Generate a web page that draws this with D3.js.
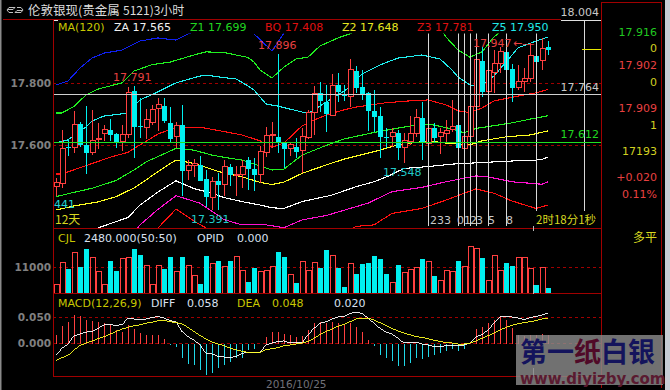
<!DOCTYPE html>
<html>
<head>
<meta charset="utf-8">
<script src="https://d3js.org/d3.v7.min.js"></script>
<style>
html, body { margin: 0; padding: 0; background: #000; overflow: hidden; }
text { font-family: "DejaVu Sans", sans-serif; font-size: 11px; }
.cn { font-family: "Noto Sans CJK SC", sans-serif; }
.axis text { fill: #808080; font-size: 10.5px; font-weight: bold; }
.axis path, .axis line { display: none; }
</style>
</head>
<body>
<div id="chart"></div>
<script>
// candles
var opens = [17.467,17.477,17.595,17.593,17.669,17.602,17.577,17.621,17.638,17.650,17.637,17.613,17.636,17.776,17.664,17.657,17.673,17.719,17.727,17.672,17.628,17.665,17.519,17.535,17.538,17.492,17.432,17.485,17.473,17.532,17.503,17.505,17.553,17.524,17.505,17.577,17.632,17.626,17.612,17.590,17.594,17.583,17.626,17.706,17.768,17.740,17.696,17.794,17.763,17.757,17.840,17.788,17.768,17.711,17.695,17.627,17.628,17.639,17.593,17.612,17.638,17.688,17.607,17.655,17.628,17.638,17.652,17.666,17.590,17.628,17.725,17.873,17.774,17.835,17.865,17.903,17.846,17.786,17.806,17.815,17.889,17.874,17.917];
var highs = [17.496,17.650,17.622,17.712,17.676,17.727,17.715,17.672,17.666,17.684,17.640,17.666,17.788,17.792,17.753,17.717,17.731,17.752,17.752,17.723,17.677,17.731,17.553,17.555,17.566,17.521,17.499,17.510,17.553,17.539,17.534,17.553,17.564,17.560,17.599,17.659,17.677,17.896,17.612,17.612,17.623,17.655,17.715,17.792,17.804,17.795,17.831,17.833,17.795,17.879,17.856,17.844,17.774,17.779,17.725,17.655,17.655,17.650,17.639,17.695,17.718,17.739,17.682,17.672,17.655,17.682,17.747,17.666,17.639,17.769,17.898,17.919,17.876,17.908,17.919,17.918,17.862,17.860,17.849,17.930,17.921,17.947,17.937];
var lows = [17.437,17.464,17.566,17.577,17.595,17.508,17.569,17.589,17.615,17.613,17.593,17.582,17.623,17.561,17.623,17.621,17.666,17.646,17.672,17.608,17.593,17.437,17.489,17.499,17.485,17.402,17.391,17.392,17.437,17.469,17.437,17.463,17.456,17.453,17.478,17.564,17.591,17.577,17.526,17.566,17.559,17.510,17.620,17.634,17.707,17.644,17.696,17.741,17.744,17.725,17.768,17.747,17.647,17.645,17.561,17.592,17.596,17.553,17.545,17.602,17.628,17.553,17.576,17.607,17.573,17.607,17.645,17.591,17.588,17.608,17.723,17.757,17.763,17.768,17.833,17.844,17.741,17.779,17.774,17.806,17.870,17.844,17.892];
var closes = [17.481,17.591,17.591,17.668,17.603,17.577,17.617,17.623,17.652,17.635,17.611,17.636,17.772,17.660,17.660,17.684,17.717,17.731,17.679,17.621,17.663,17.519,17.536,17.541,17.486,17.435,17.485,17.473,17.531,17.505,17.506,17.532,17.524,17.505,17.582,17.633,17.637,17.609,17.589,17.603,17.579,17.630,17.708,17.768,17.744,17.702,17.792,17.772,17.760,17.844,17.785,17.766,17.712,17.693,17.628,17.623,17.643,17.593,17.615,17.639,17.690,17.607,17.655,17.625,17.643,17.649,17.661,17.591,17.628,17.726,17.878,17.774,17.841,17.865,17.903,17.844,17.785,17.808,17.815,17.889,17.870,17.914,17.908];

// volume and macd panels
var volumes = [3800,13100,10300,17300,11000,18600,15200,9300,3400,13700,9400,14400,15200,18600,16100,11800,3800,11800,10300,15200,8900,15200,11800,7600,3800,15700,12300,13500,11300,13700,15500,9600,4700,10600,9200,9600,11300,17300,15200,7900,4200,13400,9600,13000,10600,18200,15900,10600,2500,12600,8000,12300,12700,15700,14400,8000,4500,11800,8500,10100,10600,14400,13400,7200,5500,9600,8900,13500,11300,19700,18900,14800,5100,15900,9600,12700,11400,15100,15100,10400,3400,10900,2000];
var macdBars = [0.017,0.033,0.041,0.054,0.052,0.045,0.044,0.041,0.039,0.035,0.026,0.023,0.036,0.028,0.020,0.017,0.017,0.017,0.009,-0.003,-0.006,-0.027,-0.040,-0.042,-0.051,-0.060,-0.056,-0.047,-0.041,-0.035,-0.028,-0.027,-0.013,-0.010,0,0.012,0.022,0.023,0.019,0.017,0.013,0.015,0.026,0.039,0.042,0.040,0.042,0.039,0.036,0.040,0.031,0.022,0.007,-0.005,-0.022,-0.028,-0.033,-0.043,-0.044,-0.038,-0.028,-0.030,-0.025,-0.022,-0.019,-0.014,-0.010,-0.014,-0.010,0.001,0.028,0.031,0.039,0.045,0.052,0.045,0.029,0.017,0.015,0.017,0.017,0.019,0.017];
var diff = [-0.023,-0.009,-0.001,0.015,0.018,0.022,0.023,0.029,0.036,0.036,0.035,0.036,0.049,0.047,0.047,0.047,0.050,0.052,0.049,0.044,0.042,0.023,0.013,0.007,-0.003,-0.019,-0.020,-0.025,-0.026,-0.027,-0.025,-0.019,-0.017,-0.017,-0.017,-0.003,0.001,0.004,0.005,0.001,0.001,0.001,0.017,0.029,0.039,0.042,0.047,0.051,0.052,0.058,0.060,0.058,0.049,0.039,0.029,0.022,0.018,0.010,0.001,0.001,0.003,-0.001,-0.003,-0.006,-0.006,-0.004,-0.004,-0.004,-0.003,0.001,0.013,0.017,0.026,0.039,0.051,0.052,0.051,0.049,0.046,0.050,0.052,0.055,0.058];
var dea = [-0.033,-0.027,-0.023,-0.012,-0.004,0.001,0.005,0.009,0.013,0.018,0.023,0.028,0.031,0.034,0.036,0.039,0.041,0.044,0.045,0.042,0.040,0.038,0.031,0.023,0.015,0.009,0.003,-0.001,-0.004,-0.009,-0.012,-0.015,-0.017,-0.017,-0.017,-0.012,-0.010,-0.008,-0.004,-0.003,-0.001,0.001,0.004,0.010,0.017,0.023,0.028,0.033,0.037,0.042,0.047,0.049,0.049,0.045,0.040,0.035,0.029,0.024,0.020,0.017,0.013,0.012,0.009,0.006,0.004,0.002,0.001,-0.001,-0.001,0.001,0.005,0.010,0.015,0.020,0.026,0.031,0.035,0.038,0.040,0.042,0.044,0.047,0.049];

// band lines, read at the bars listed
var blueBars = [0,2,4,6,8,11,14,17,20,22,25,28,32,33,36,38];
var blueVals = [17.795,17.808,17.850,17.882,17.898,17.908,17.937,17.947,17.940,17.960,17.979,17.985,17.973,17.960,17.905,17.963];
var greenTopBars = [0,1,3,5,7,11,13,16,19,23,25,28,30,32,33,34,36,38,40,42,44,47,49,52,55,60,63,65,67,69,71,73,74,76,79,82];
var greenTopVals = [17.705,17.705,17.726,17.763,17.782,17.802,17.840,17.861,17.869,17.892,17.902,17.900,17.892,17.884,17.869,17.844,17.818,17.853,17.879,17.885,17.921,17.947,17.960,17.989,18.011,18.031,18.011,17.950,17.908,17.885,17.902,17.950,17.966,17.998,18.024,18.044];
var cyanBars = [0,2,5,6,8,11,12,14,17,20,24,25,28,30,32,33,35,37,41,42,43,45,47,49,51,54,57,61,64,66,67,69,71,73,75,77,80,82];
var cyanVals = [17.609,17.618,17.660,17.679,17.695,17.702,17.706,17.747,17.773,17.802,17.824,17.827,17.819,17.815,17.792,17.779,17.734,17.727,17.708,17.705,17.715,17.740,17.763,17.789,17.831,17.860,17.882,17.892,17.879,17.844,17.821,17.795,17.795,17.824,17.869,17.915,17.937,17.950];
var redMidBars = [0,1,2,5,9,12,14,17,20,24,28,31,34,36,38,41,43,45,48,50,55,59,62,65,67,69,71,73,78,80,82];
var redMidVals = [17.508,17.508,17.515,17.535,17.562,17.578,17.602,17.637,17.659,17.659,17.645,17.634,17.615,17.594,17.608,17.663,17.682,17.698,17.715,17.724,17.738,17.744,17.747,17.731,17.712,17.706,17.721,17.744,17.763,17.770,17.781];
var greenLowBars = [0,3,6,10,13,15,18,20,23,26,28,31,34,36,38,41,45,48,53,57,61,63,66,68,70,76,79,82];
var greenLowVals = [17.435,17.449,17.462,17.487,17.521,17.547,17.573,17.591,17.585,17.569,17.562,17.553,17.534,17.521,17.524,17.569,17.600,17.621,17.642,17.656,17.669,17.666,17.653,17.641,17.655,17.673,17.685,17.696];
var yellowBars = [0,3,7,10,13,15,18,20,23,26,28,31,34,36,38,41,45,48,53,57,62,65,69,71,75,79,82];
var yellowVals = [17.392,17.405,17.418,17.435,17.463,17.489,17.529,17.553,17.542,17.523,17.511,17.499,17.481,17.474,17.482,17.510,17.537,17.556,17.580,17.602,17.615,17.608,17.602,17.615,17.628,17.634,17.647];
var whiteBars = [3,7,12,14,17,20,23,26,28,31,34,36,38,41,46,50,53,55,58,62,66,70,76,80,81,82];
var whiteVals = [17.302,17.334,17.368,17.408,17.450,17.486,17.461,17.446,17.432,17.419,17.408,17.399,17.397,17.419,17.440,17.467,17.483,17.498,17.526,17.532,17.540,17.544,17.550,17.553,17.555,17.563];
var magentaBars = [12,14,17,20,24,28,31,35,38,41,45,52,56,61,65,70,72,76,81,82];
var magentaVals = [17.295,17.344,17.394,17.438,17.414,17.361,17.344,17.344,17.335,17.360,17.374,17.414,17.451,17.465,17.483,17.502,17.499,17.483,17.475,17.483];
var redLow1Bars = [16,17,20,23,25,27];
var redLow1Vals = [17.285,17.334,17.395,17.356,17.334,17.295];
var redLow2Bars = [49,50,53,56,61,65,70,73,76,80,82];
var redLow2Vals = [17.327,17.339,17.344,17.381,17.397,17.424,17.460,17.446,17.421,17.397,17.408];

// time lines
var fibBars = [62,67,68,69,70,72,75,80,88];
var fibLabels = ["233","0","1","2","3","5","8"];

var priceTicks = [17.8, 17.6];
var volTicks = [11000];
var macdTicks = [0.05, 0];

var width = 670, height = 390;
var left = 53, right = 601;

var svg = d3.select("#chart").append("svg")
    .attr("width", width)
    .attr("height", height)
    .style("display", "block");

var x = d3.scaleLinear().domain([0, 82]).range([56, 548]);
var y = d3.scaleLinear().domain([17.8, 17.6]).range([83.5, 145.5]);
var yVol = d3.scaleLinear().domain([0, 11000]).range([293, 267]);
var yMacd = d3.scaleLinear().domain([0, 0.05]).range([343.5, 317.5]);

var RED = "#ff4040", CYAN = "#00f0f0", DARK = "#a00000";

svg.append("defs").append("clipPath").attr("id", "mainClip")
    .append("rect").attr("x", left + 1).attr("y", 20).attr("width", right - left - 1).attr("height", 208);

// window edges
svg.append("rect").attr("x", 0).attr("y", 0).attr("width", 1.5).attr("height", height).attr("fill", "#8a8a8a");
svg.append("rect").attr("x", 665).attr("y", 0).attr("width", 5).attr("height", height).attr("fill", "#c8ccd4");

function hline(y0, x1, x2, color, dash) {
    svg.append("line").attr("x1", x1).attr("x2", x2).attr("y1", y0).attr("y2", y0)
        .attr("stroke", color).attr("stroke-dasharray", dash || null)
        .attr("shape-rendering", "crispEdges");
}
function vline(x0, y1, y2, color) {
    svg.append("line").attr("x1", x0).attr("x2", x0).attr("y1", y1).attr("y2", y2)
        .attr("stroke", color).attr("shape-rendering", "crispEdges");
}

// dashed grid
priceTicks.forEach(function(d) { hline(y(d), left, right, DARK, "3,3"); });
volTicks.forEach(function(d) { hline(yVol(d), left, right, DARK, "3,3"); });
macdTicks.forEach(function(d) { hline(yMacd(d), left, right, DARK, "3,3"); });

// band lines
var main = svg.append("g").attr("clip-path", "url(#mainClip)");
function bandLine(bars, vals, color) {
    var line = d3.line().x(function(d) { return x(d); }).y(function(d, i) { return y(vals[i]); });
    main.append("path").attr("d", line(bars)).attr("fill", "none")
        .attr("stroke", color).attr("stroke-width", 1.1).attr("shape-rendering", "crispEdges");
}
bandLine(blueBars, blueVals, "#1020f0");
bandLine(greenTopBars, greenTopVals, "#20f020");
bandLine(cyanBars, cyanVals, "#20f0f0");
bandLine(redMidBars, redMidVals, "#ff1010");
bandLine(greenLowBars, greenLowVals, "#20f020");
bandLine(yellowBars, yellowVals, "#ffff20");
bandLine(whiteBars, whiteVals, "#ffffff");
bandLine(magentaBars, magentaVals, "#ff10d0");
bandLine(redLow1Bars, redLow1Vals, "#ff1010");
bandLine(redLow2Bars, redLow2Vals, "#ff1010");

// candles
var candle = main.selectAll(".candle").data(opens).enter().append("g").attr("class", "candle")
    .attr("shape-rendering", "crispEdges");
candle.append("line")
    .attr("x1", function(d, i) { return x(i) + 0.5; })
    .attr("x2", function(d, i) { return x(i) + 0.5; })
    .attr("y1", function(d, i) { return y(highs[i]); })
    .attr("y2", function(d, i) { return y(lows[i]); })
    .attr("stroke", function(d, i) { return closes[i] >= d ? RED : CYAN; });
candle.append("rect")
    .attr("x", function(d, i) { return x(i) - 2; })
    .attr("width", 5)
    .attr("y", function(d, i) { return y(Math.max(d, closes[i])); })
    .attr("height", function(d, i) { return Math.max(1, Math.abs(y(d) - y(closes[i]))); })
    .attr("fill", function(d, i) { return closes[i] >= d ? "#000" : CYAN; })
    .attr("stroke", function(d, i) { return closes[i] >= d ? RED : "none"; });

// time lines
svg.selectAll(".fib").data(fibBars).enter().append("line").attr("class", "fib")
    .attr("x1", function(d) { return x(d) + 0.5; })
    .attr("x2", function(d) { return x(d) + 0.5; })
    .attr("y1", 20)
    .attr("y2", function(d) { return d >= 80 ? 211 : 226; })
    .attr("stroke", "#d8d8d8").attr("shape-rendering", "crispEdges");

// price lines
hline(94.7, left, right, "#d0d0d0");
hline(142, left, right, "#20e020");

// label row sits on black
svg.append("rect").attr("x", left + 1).attr("y", 20).attr("width", 507).attr("height", 13.5).attr("fill", "#000");
svg.append("rect").attr("x", 192).attr("y", 33).attr("width", 63).attr("height", 1).attr("fill", "#000");

// volume
var vol = svg.selectAll(".vol").data(volumes).enter().append("rect").attr("class", "vol")
    .attr("x", function(d, i) { return x(i) - 2; })
    .attr("width", 5)
    .attr("y", function(d) { return yVol(d); })
    .attr("height", function(d) { return yVol(0) - yVol(d); })
    .attr("fill", function(d, i) { return closes[i] >= opens[i] ? "none" : CYAN; })
    .attr("stroke", function(d, i) { return closes[i] >= opens[i] ? RED : "none"; })
    .attr("shape-rendering", "crispEdges");

// macd
svg.selectAll(".macdBar").data(macdBars).enter().append("line").attr("class", "macdBar")
    .attr("x1", function(d, i) { return x(i) + 0.5; })
    .attr("x2", function(d, i) { return x(i) + 0.5; })
    .attr("y1", yMacd(0))
    .attr("y2", function(d) { return yMacd(d); })
    .attr("stroke", function(d) { return d >= 0 ? RED : "#20d8e8"; })
    .attr("shape-rendering", "crispEdges");
var macdLine = d3.line().x(function(d, i) { return x(i); }).y(function(d) { return yMacd(d); });
svg.append("path").attr("d", macdLine(diff)).attr("fill", "none").attr("stroke", "#ffffff").attr("stroke-width", 0.9).attr("shape-rendering", "crispEdges");
svg.append("path").attr("d", macdLine(dea)).attr("fill", "none").attr("stroke", "#ffff20").attr("stroke-width", 0.9).attr("shape-rendering", "crispEdges");

// panel frame
hline(19, 3, 561, DARK);
hline(20, 561, right, "#e0e0e0");
hline(228.5, left, right, DARK);
hline(293.5, left, right, DARK);
hline(376.5, left, right, DARK);
hline(2.5, right, 662, DARK);
vline(left + 0.5, 19, 376, DARK);
vline(right + 0.5, 2, 388, DARK);
vline(661.5, 2, 388, DARK);
hline(20, left + 1, left + 5, "#e8e8e8");
vline(533.5, 226, 231, "#bbbbbb");
vline(533.5, 285, 294, "#bbbbbb");
vline(533.5, 368, 376, "#bbbbbb");

// current price marker
hline(49.5, 582, right, "#e8e800");

// left axes
svg.append("g").attr("class", "axis").attr("transform", "translate(" + (left + 1) + ",0)")
    .call(d3.axisLeft(y).tickValues(priceTicks).tickSize(0).tickPadding(3).tickFormat(d3.format(".3f")));
svg.append("g").attr("class", "axis").attr("transform", "translate(" + (left + 1) + ",0)")
    .call(d3.axisLeft(yVol).tickValues(volTicks).tickSize(0).tickPadding(3).tickFormat(d3.format("d")));
svg.append("g").attr("class", "axis").attr("transform", "translate(" + (left + 1) + ",0)")
    .call(d3.axisLeft(yMacd).tickValues(macdTicks).tickSize(0).tickPadding(3).tickFormat(d3.format(".3f")));

function label(str, px, py, color, anchor, cls, size) {
    svg.append("text").attr("x", px).attr("y", py).attr("fill", color)
        .attr("text-anchor", anchor || "start").attr("class", cls || null)
        .style("font-size", size ? size + "px" : null)
        .text(str);
}

// title
svg.append("path").attr("d", "M8 9.5h5l2-2h-6l-2 2.5 2 2.5h4 M22 10.500h-5l-2 2h6l2-2.500-2-2.500h-4")
    .attr("fill", "none").attr("stroke", "#c0c0c0");
label("伦敦银现", 28, 15, "#dcdcdc", "start", "cn", 12.5);
label("(贵金属", 78, 15, "#dcdcdc", "start", "cn", 12.5);
label("5121)3小时", 123, 15, "#dcdcdc", "start", "cn", 12);

// label row
label("MA(120)", 58, 31, "#c8c800");
label("ZA 17.565", 114, 31, "#f0f0f0");
label("Z1 17.699", 190, 31, "#20d820");
label("BQ 17.408", 265, 31, "#e01010");
label("Z2 17.648", 342, 31, "#e8e820");
label("Z3 17.781", 417, 31, "#e01010");
label("Z5 17.950", 492, 31, "#20e8e8");

// panel headings
label("CJL", 58, 242, "#c8c800");
label("2480.000(50:50)", 84, 242, "#d8e0f0");
label("OPID", 197, 242, "#d8e0f0");
label("0.000", 237, 242, "#d8e0f0");
label("MACD(12,26,9)", 58, 307, "#c8c800");
label("DIFF", 151, 307, "#d8e0f0");
label("0.058", 187, 307, "#d8e0f0");
label("DEA", 237, 307, "#c8c800");
label("0.048", 272, 307, "#c8c800");
label("0.020", 334, 307, "#d8e0f0");

// marks on the chart
label("17.791", 113, 81, "#e84040");
label("17.896", 258, 49, "#e84040");
label("17.947", 473, 47, "#e84040");
label("←---", 513, 47, "#e84040");
label("17.548", 383, 176, "#20c8c8");
label("17.391", 191, 223, "#20c8c8");
label("441", 54, 208, "#20d8d8");
label("12天", 55, 224, "#d8d820", "start", "cn", 12);
label("2时18分1秒", 536, 224, "#d8d820", "start", "cn", 11.500);
fibLabels.forEach(function(d, i) {
    label(d, i == 0 ? 430 : x(fibBars[i]) + (i == 1 ? -1 : 0), 224, "#c8c8c8");
});
label("18.004", 599, 16, "#c8c8c8", "end");
label("17.764", 599, 91, "#c8c8c8", "end");
label("17.612", 599, 138, "#20d820", "end");

// right panel
label("17.916", 657, 36, "#20c820", "end");
label("0", 657, 52, "#d0d020", "end");
label("17.902", 657, 69, "#e84040", "end");
label("0", 657, 86, "#d0d020", "end");
label("17.909", 657, 112, "#e84040", "end");
label("1", 657, 129, "#d0d020", "end");
label("17193", 657, 155, "#d0d020", "end");
label("+0.020", 657, 181, "#e84040", "end");
label("0.11%", 657, 198, "#e84040", "end");
label("多平", 657, 242, "#d8d820", "end", "cn", 12);

// date
svg.append("text").attr("x", 266).attr("y", 388).attr("fill", "#707078")
    .style("font-size", "10.5px").text("2016/10/25");

// watermark
svg.append("rect").attr("x", 516).attr("y", 335).attr("width", 147).attr("height", 50)
    .attr("fill", "#8a8a8a").attr("fill-opacity", 0.82);
var wm = svg.append("text").attr("x", 520).attr("y", 362).attr("class", "cn")
    .style("font-size", "27px").style("font-weight", "bold");
wm.append("tspan").attr("fill", "#14145c").text("第一");
wm.append("tspan").attr("fill", "#500a28").text("纸");
wm.append("tspan").attr("fill", "#14145c").text("白银");
svg.append("text").attr("x", 520).attr("y", 384).attr("fill", "#5a1a30")
    .style("font-size", "15px").style("font-weight", "bold").text("www.diyizby.com");
</script>
</body>
</html>
